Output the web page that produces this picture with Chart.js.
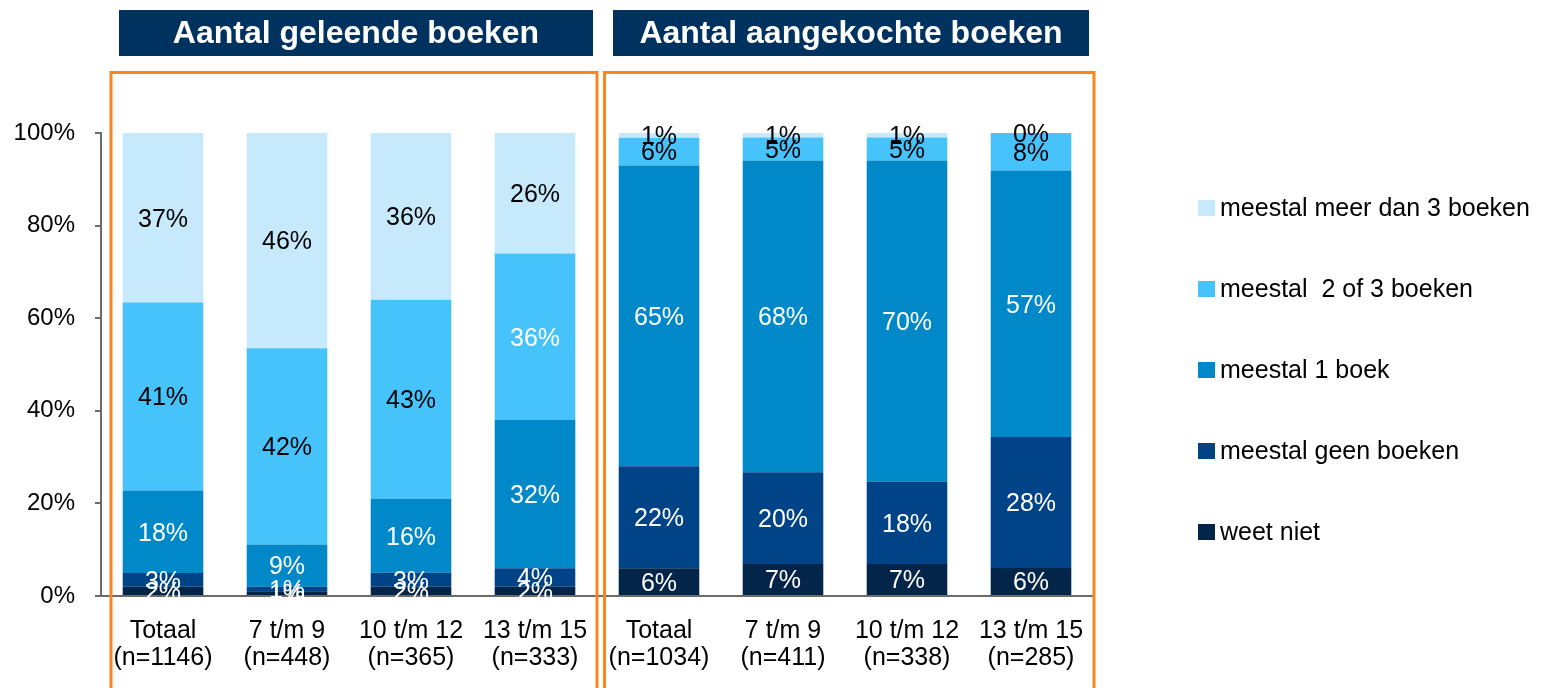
<!DOCTYPE html>
<html>
<head>
<meta charset="utf-8">
<script src="https://cdn.jsdelivr.net/npm/chart.js@4.4.0/dist/chart.umd.min.js"></script>
<style>
	body{margin:0;background:#fff;}
	canvas{display:block;}
</style>
</head>
<body>
<canvas id="grafiek" width="1549" height="688"></canvas>
<script>

var groepen = ['Totaal', '7 t/m 9', '10 t/m 12', '13 t/m 15'];
var nGeleend = [1146, 448, 365, 333];
var nGekocht = [1034, 411, 338, 285];
var titels = ['Aantal geleende boeken', 'Aantal aangekochte boeken'];

// eerst de 4 kolommen geleend, dan de 4 kolommen aangekocht
var weetNiet    = [2, 1, 2, 2, 6, 7, 7, 6];
var geenBoeken  = [3, 1, 3, 4, 22, 20, 18, 28];
var eenBoek     = [18, 9, 16, 32, 65, 68, 70, 57];
var tweeOfDrie  = [41, 42, 43, 36, 6, 5, 5, 8];
var meerDanDrie = [37, 46, 36, 26, 1, 1, 1, 0];

var yTicks = [0, 20, 40, 60, 80, 100];

var lettertype = '"Liberation Sans", Arial, sans-serif';

var labels = [];
for(var i = 0; i < groepen.length; i++){
	labels.push([groepen[i], '(n=' + nGeleend[i] + ')']);
}
for(var i = 0; i < groepen.length; i++){
	labels.push([groepen[i], '(n=' + nGekocht[i] + ')']);
}

// 100% gestapeld, zoals in Excel
var reeksen = [weetNiet, geenBoeken, eenBoek, tweeOfDrie, meerDanDrie];
var totaal = [];
for(var i = 0; i < labels.length; i++){
	var s = 0;
	for(var r = 0; r < reeksen.length; r++){ s += reeksen[r][i]; }
	totaal.push(s);
}
function aandeel(reeks){
	return reeks.map(function(v, i){ return v / totaal[i] * 100; });
}

function maakSet(naam, reeks, kleur, labelKleur){
	return {
		label: naam,
		data: aandeel(reeks),
		ruw: reeks,
		backgroundColor: kleur,
		borderWidth: 0,
		labelKleur: labelKleur
	};
}

// percentages in de staven
var labelPlugin = {
	id: 'waardes',
	afterDatasetsDraw: function(chart){
		var ctx = chart.ctx;
		ctx.save();
		ctx.font = '25px ' + lettertype;
		ctx.textAlign = 'center';
		ctx.textBaseline = 'middle';
		chart.data.datasets.forEach(function(ds, d){
			var meta = chart.getDatasetMeta(d);
			meta.data.forEach(function(bar, i){
				var y = (bar.y + bar.base) / 2 + 2;
				ctx.fillStyle = typeof ds.labelKleur === 'function' ? ds.labelKleur(i) : ds.labelKleur;
				ctx.fillText(ds.ruw[i] + '%', bar.x, y);
			});
		});
		ctx.restore();
	}
};

// legenda rechts, bovenste reeks eerst
var legendaPlugin = {
	id: 'legenda',
	afterDraw: function(chart){
		var ctx = chart.ctx;
		var area = chart.chartArea;
		var sets = chart.data.datasets;
		ctx.save();
		ctx.font = '25px ' + lettertype;
		ctx.textAlign = 'left';
		ctx.textBaseline = 'middle';
		for(var k = 0; k < sets.length; k++){
			var ds = sets[sets.length - 1 - k];
			var y = area.top + 75 + k * 81;
			ctx.fillStyle = ds.backgroundColor;
			ctx.fillRect(area.right + 105, y - 8, 17, 16);
			ctx.fillStyle = '#000000';
			ctx.fillText(ds.label, area.right + 127, y + 1);
		}
		ctx.restore();
	}
};

// oranje kaders en titelbalken boven elke groep
var kaderPlugin = {
	id: 'kaders',
	afterDraw: function(chart){
		var ctx = chart.ctx;
		var x = chart.scales.x;
		var area = chart.chartArea;
		var midden = (x.getPixelForValue(3) + x.getPixelForValue(4)) / 2;
		var kaders = [[area.left + 10, midden], [midden + 7.5, area.right + 1]];
		var balken = [[area.left + 18, midden - 4], [midden + 16, area.right - 4]];

		ctx.save();
		ctx.strokeStyle = '#F7861C';
		ctx.lineWidth = 3;
		kaders.forEach(function(k){
			ctx.strokeRect(k[0], 72.5, k[1] - k[0], 700);
		});

		ctx.font = 'bold 32px ' + lettertype;
		ctx.textAlign = 'center';
		ctx.textBaseline = 'middle';
		balken.forEach(function(b, i){
			ctx.fillStyle = '#00325F';
			ctx.fillRect(b[0], 10, b[1] - b[0], 46);
			ctx.fillStyle = '#ffffff';
			ctx.fillText(titels[i], (b[0] + b[1]) / 2, 34);
		});
		ctx.restore();
	}
};

var ctx = document.getElementById('grafiek');

var grafiek = new Chart(ctx, {
	type: 'bar',
	data: {
		labels: labels,
		datasets: [
			maakSet('weet niet', weetNiet, '#04254A', '#ffffff'),
			maakSet('meestal geen boeken', geenBoeken, '#004387', '#ffffff'),
			maakSet('meestal 1 boek', eenBoek, '#0088C8', '#ffffff'),
			maakSet('meestal  2 of 3 boeken', tweeOfDrie, '#47C3FC', function(i){ return i === 3 ? '#ffffff' : '#000000'; }),
			maakSet('meestal meer dan 3 boeken', meerDanDrie, '#C6EAFB', '#000000')
		]
	},
	options: {
		responsive: false,
		animation: false,
		devicePixelRatio: 1,
		layout: {
			padding: {left: 0, top: 133, right: 456, bottom: 0}
		},
		datasets: {
			bar: {barPercentage: 0.65, categoryPercentage: 1.0}
		},
		plugins: {
			legend: {display: false},
			tooltip: {enabled: false}
		},
		scales: {
			x: {
				stacked: true,
				grid: {display: false, drawTicks: false},
				border: {display: true, color: '#6b6b6b', width: 2},
				afterFit: function(scale){ scale.height = 92; },
				ticks: {
					color: '#000000',
					padding: 21,
					autoSkip: false,
					maxRotation: 0,
					font: {size: 25, family: lettertype, lineHeight: 1.1}
				}
			},
			y: {
				stacked: true,
				min: 0,
				max: 100,
				afterBuildTicks: function(scale){
					scale.ticks = yTicks.map(function(v){ return {value: v}; });
				},
				afterFit: function(scale){ scale.width = 101; },
				grid: {display: true, drawOnChartArea: false, drawTicks: true, tickLength: 6, color: '#6b6b6b', lineWidth: 2},
				border: {display: true, color: '#6b6b6b', width: 2},
				ticks: {
					color: '#000000',
					padding: 20,
					font: {size: 24, family: lettertype},
					callback: function(v){ return v + '%'; }
				}
			}
		}
	},
	plugins: [labelPlugin, legendaPlugin, kaderPlugin]
});

</script>
</body>
</html>
